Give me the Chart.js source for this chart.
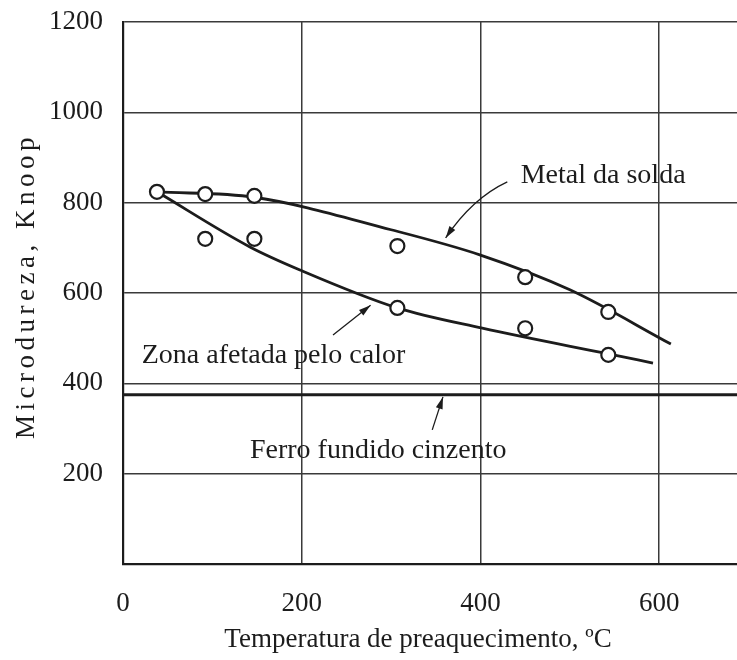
<!DOCTYPE html>
<html>
<head>
<meta charset="utf-8">
<script src="https://cdn.jsdelivr.net/npm/chart.js@4.4.0/dist/chart.umd.min.js"></script>
<style>
  html, body { margin: 0; padding: 0; background: #ffffff; }
  #wrap { width: 737px; height: 660px; }
</style>
</head>
<body>
<div id="wrap"><canvas id="c" width="737" height="660"></canvas></div>
<script>
// Measured points (preheat temperature in ºC, Knoop microhardness)
const weldTemps = [38, 92, 147, 307, 450, 543];
const weldValues = [824, 819, 815, 704, 635, 558];
const hazTemps = [92, 147, 307, 450, 543];
const hazValues = [720, 720, 567, 522, 463];

// Fitted trend curves
const weldCurveX = [38, 147, 300, 400, 500, 613];
const weldCurveY = [824, 812, 740, 684, 607, 487];
const hazCurveX = [38, 142, 198, 307, 402, 543, 593];
const hazCurveY = [824, 702, 651, 567, 522, 465, 445];

// Base metal reference level
const grayIronLevel = 375;

// Axes
const xTicks = [0, 200, 400, 600];
const yTicks = [0, 200, 400, 600, 800, 1000, 1200];
const xMin = 0, xMax = 687;
const yMin = 0, yMax = 1200;

// Curve labels and their leader arrows, in data units
const labelTexts = ['Metal da solda', 'Zona afetada pelo calor', 'Ferro fundido cinzento'];
const labelX = [445, 21, 142];
const labelY = [843, 445, 235];
const arrowFrom = [[430, 846], [235, 507], [346, 297]];
const arrowCtrl = [[391, 810], null, null];
const arrowTip = [[361, 722], [277, 573], [358, 370]];

const toXY = (xs, ys) => xs.map((x, i) => ({ x: x, y: ys[i] }));

const INK = '#1c1c1c';
const SERIF = '"Liberation Serif", "Times New Roman", serif';

const annotate = {
  id: 'annotate',
  afterDraw(chart) {
    const ctx = chart.ctx;
    const xs = chart.scales.x, ys = chart.scales.y;
    const px = v => xs.getPixelForValue(v);
    const py = v => ys.getPixelForValue(v);
    ctx.save();
    ctx.fillStyle = INK;
    ctx.font = '28px ' + SERIF;
    ctx.textAlign = 'left';
    ctx.textBaseline = 'alphabetic';
    labelTexts.forEach((t, i) => ctx.fillText(t, px(labelX[i]), py(labelY[i])));

    ctx.strokeStyle = INK;
    ctx.lineWidth = 1.3;
    arrowTip.forEach((tip, i) => {
      const f = arrowFrom[i], c = arrowCtrl[i];
      const x0 = px(f[0]), y0 = py(f[1]), x1 = px(tip[0]), y1 = py(tip[1]);
      ctx.beginPath();
      ctx.moveTo(x0, y0);
      let dx, dy;
      if (c) {
        const cx = px(c[0]), cy = py(c[1]);
        ctx.quadraticCurveTo(cx, cy, x1, y1);
        dx = x1 - cx; dy = y1 - cy;
      } else {
        ctx.lineTo(x1, y1);
        dx = x1 - x0; dy = y1 - y0;
      }
      ctx.stroke();
      const len = Math.hypot(dx, dy);
      const ux = dx / len, uy = dy / len;
      const hl = 12, hw = 3.5;
      ctx.beginPath();
      ctx.moveTo(x1, y1);
      ctx.lineTo(x1 - ux * hl - uy * hw, y1 - uy * hl + ux * hw);
      ctx.lineTo(x1 - ux * hl + uy * hw, y1 - uy * hl - ux * hw);
      ctx.closePath();
      ctx.fill();
    });

    // Axis titles
    ctx.font = '27px ' + SERIF;
    ctx.textAlign = 'center';
    ctx.fillText('Temperatura de preaquecimento, ºC', 418, 647);

    ctx.translate(34, 286);
    ctx.rotate(-Math.PI / 2);
    ctx.font = '27px ' + SERIF;
    try { ctx.letterSpacing = '4.5px'; } catch (e) {}
    ctx.textBaseline = 'alphabetic';
    ctx.fillText('Microdureza, Knoop', 0, 0);
    ctx.restore();
  }
};

new Chart(document.getElementById('c'), {
  type: 'scatter',
  data: {
    datasets: [
      {
        label: 'Metal da solda (curva)',
        type: 'line',
        data: toXY(weldCurveX, weldCurveY),
        borderColor: INK, borderWidth: 2.8,
        pointRadius: 0, showLine: true, fill: false,
        cubicInterpolationMode: 'monotone',
        order: 2
      },
      {
        label: 'Zona afetada pelo calor (curva)',
        type: 'line',
        data: toXY(hazCurveX, hazCurveY),
        borderColor: INK, borderWidth: 2.8,
        pointRadius: 0, showLine: true, fill: false,
        cubicInterpolationMode: 'monotone',
        order: 2
      },
      {
        label: 'Ferro fundido cinzento',
        type: 'line',
        data: [{ x: xMin, y: grayIronLevel }, { x: xMax, y: grayIronLevel }],
        borderColor: INK, borderWidth: 3,
        pointRadius: 0, showLine: true, fill: false,
        order: 2
      },
      {
        label: 'Metal da solda',
        data: toXY(weldTemps, weldValues),
        pointRadius: 7, pointBorderWidth: 2.2,
        pointBackgroundColor: '#ffffff', pointBorderColor: INK,
        showLine: false,
        order: 0
      },
      {
        label: 'Zona afetada pelo calor',
        data: toXY(hazTemps, hazValues),
        pointRadius: 7, pointBorderWidth: 2.2,
        pointBackgroundColor: '#ffffff', pointBorderColor: INK,
        showLine: false,
        order: 0
      }
    ]
  },
  options: {
    responsive: false,
    animation: false,
    events: [],
    layout: { autoPadding: false, padding: { top: 22, right: 0, left: 0, bottom: 0 } },
    plugins: { legend: { display: false }, tooltip: { enabled: false } },
    scales: {
      x: {
        type: 'linear',
        min: xMin, max: xMax,
        afterBuildTicks: s => { s.ticks = xTicks.map(v => ({ value: v })); },
        afterFit: s => { s.height = 96; s.paddingLeft = 0; s.paddingRight = 0; },
        grid: { color: '#3a3a3a', lineWidth: 1.5, drawTicks: false },
        border: { color: INK, width: 2.2 },
        ticks: {
          padding: 24,
          color: INK,
          font: { family: SERIF, size: 27 }
        }
      },
      y: {
        type: 'linear',
        min: yMin, max: yMax,
        afterBuildTicks: s => { s.ticks = yTicks.map(v => ({ value: v })); },
        afterFit: s => { s.width = 123; s.paddingTop = 0; s.paddingBottom = 0; },
        grid: { color: '#3a3a3a', lineWidth: 1.5, drawTicks: false },
        border: { color: INK, width: 2.2 },
        ticks: {
          padding: 20,
          color: INK,
          font: { family: SERIF, size: 27 },
          callback: v => (v === 0 ? '' : String(v))
        }
      }
    }
  },
  plugins: [annotate]
});
</script>
</body>
</html>
